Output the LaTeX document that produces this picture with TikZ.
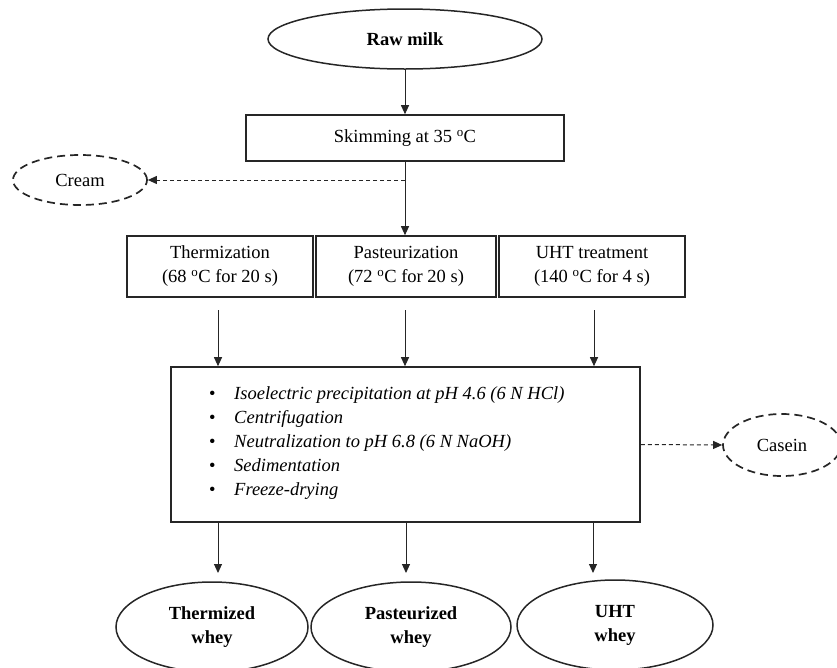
\documentclass[tikz,border=0pt]{standalone}
\usepackage{fontspec}
\setmainfont{Liberation Serif}
\usetikzlibrary{shapes.geometric,arrows.meta}
\definecolor{ink}{HTML}{262626}
\tikzset{
  every node/.style={font=\fontsize{18.5}{24}\selectfont, text=black, inner sep=0pt},
  procbox/.style={draw=ink, line width=1.6pt, rectangle, align=center},
  endell/.style={draw=ink, line width=1.5pt, ellipse, align=center, font=\fontsize{18.5}{24}\selectfont\bfseries},
  sideell/.style={draw=ink, line width=1.7pt, ellipse, dash pattern=on 8pt off 5pt},
  flow/.style={draw=ink, line width=1pt, -{Triangle[length=9pt,width=8pt]}},
  sideflow/.style={draw=ink, line width=1pt, dash pattern=on 4pt off 3pt, -{Triangle[length=9pt,width=8pt]}},
  plain/.style={draw=ink, line width=1pt}
}
\begin{document}
\begin{tikzpicture}[x=1pt,y=-1pt]
\useasboundingbox (0,0) rectangle (837,667);
\clip (0,0) rectangle (837,667);

% top
\node[endell, minimum width=274pt, minimum height=60pt] (raw) at (405,39) {Raw milk};
\node[procbox, minimum width=318pt, minimum height=46pt] (skim) at (405,138) {Skimming at 35 \textsuperscript{o}C};
\draw[flow] (raw.south) -- (skim.north);

% cream
\node[sideell, minimum width=134pt, minimum height=50pt] (cream) at (80,180) {Cream};
\coordinate (split) at (405,180);

% heat treatments
\node[procbox, minimum width=186pt, minimum height=61pt] (therm) at (220,266.5) {Thermization\\(68 \textsuperscript{o}C for 20 s)};
\node[procbox, minimum width=180pt, minimum height=61pt] (past) at (406,266.5) {Pasteurization\\(72 \textsuperscript{o}C for 20 s)};
\node[procbox, minimum width=186pt, minimum height=61pt] (uht) at (592,266.5) {UHT treatment\\(140 \textsuperscript{o}C for 4 s)};

\draw[plain] (skim.south) -- (split);
\draw[flow] (split) -- (split |- past.north);
\draw[sideflow] (split) -- (cream.east);

% main processing box
\node[procbox, minimum width=469pt, minimum height=155pt] (main) at (405.5,444.5) {};
\node[anchor=north west, align=left] (steps) at (209,386) {%
\makebox[25pt][l]{\textbullet}\textit{Isoelectric precipitation at pH 4.6 (6 N HCl)}\\
\makebox[25pt][l]{\textbullet}\textit{Centrifugation}\\
\makebox[25pt][l]{\textbullet}\textit{Neutralization to pH 6.8 (6 N NaOH)}\\
\makebox[25pt][l]{\textbullet}\textit{Sedimentation}\\
\makebox[25pt][l]{\textbullet}\textit{Freeze-drying}};

\coordinate (t1) at (218,310);
\coordinate (t2) at (405,310);
\coordinate (t3) at (594,310);
\draw[flow] (t1) -- (t1 |- main.north);
\draw[flow] (t2) -- (t2 |- main.north);
\draw[flow] (t3) -- (t3 |- main.north);

% casein
\node[sideell, minimum width=118pt, minimum height=62pt] (casein) at (782,445) {Casein};
\draw[sideflow] (main.east) -- (casein.west);

% wheys
\node[endell, minimum width=192pt, minimum height=90pt] (tw) at (212,627) {Thermized\\whey};
\node[endell, minimum width=200pt, minimum height=90pt] (pw) at (411,627) {Pasteurized\\whey};
\node[endell, minimum width=196pt, minimum height=90pt] (uw) at (615,625) {UHT\\whey};

\coordinate (b1) at (218,573);
\coordinate (b2) at (406,573);
\coordinate (b3) at (593,573);
\draw[flow] (b1 |- main.south) -- (b1);
\draw[flow] (b2 |- main.south) -- (b2);
\draw[flow] (b3 |- main.south) -- (b3);
\end{tikzpicture}
\end{document}
